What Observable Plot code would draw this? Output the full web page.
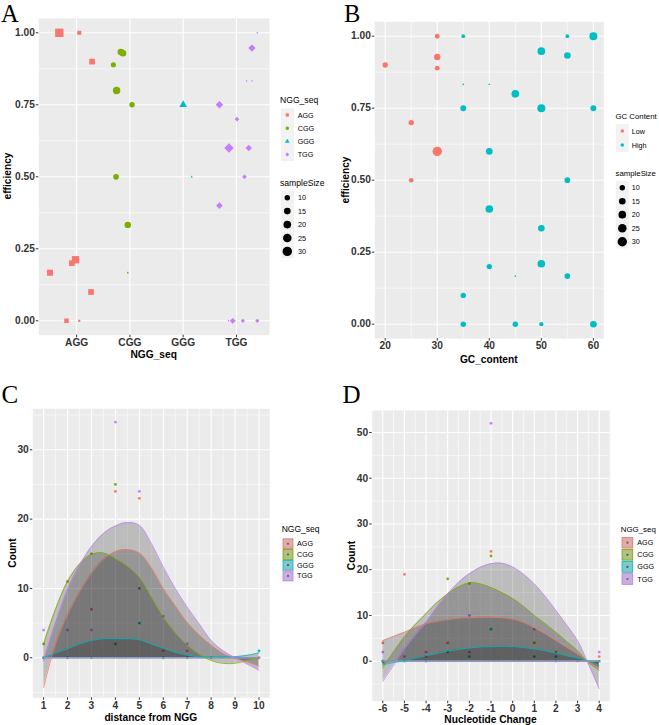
<!DOCTYPE html>
<html><head><meta charset="utf-8">
<script src="https://cdn.jsdelivr.net/npm/d3@7"></script>
<script src="https://cdn.jsdelivr.net/npm/@observablehq/plot@0.6"></script>
<style>
body{margin:0;background:#fff;}
#fig{position:relative;width:659px;height:725px;overflow:hidden;background:#fff;}
</style></head><body><div id="fig"></div>
<script>
// ---------- shared ----------
const ngg = ["AGG", "CGG", "GGG", "TGG"];
const nggColors = ["#F8766D", "#7CAE00", "#00BFC4", "#C77CFF"];
const nggShapes = ["square", "circle", "triangle", "diamond2"];
const gcLevels = ["Low", "High"];
const gcColors = ["#F8766D", "#00BFC4"];
const sizeBreaks = [10, 15, 20, 25, 30];

// ---------- Panel A: efficiency by NGG_seq (jittered) ----------
const aGroup  = ["AGG","AGG","AGG","AGG","AGG","AGG","AGG","AGG","AGG",
                 "CGG","CGG","CGG","CGG","CGG","CGG","CGG","CGG",
                 "GGG","GGG",
                 "TGG","TGG","TGG","TGG","TGG","TGG","TGG","TGG","TGG","TGG","TGG","TGG","TGG","TGG"];
const aJitter = [-0.325,0.05,0.29,-0.02,-0.09,-0.5,0.27,-0.19,0.05,
                 -0.17,-0.13,-0.31,-0.25,0.04,-0.26,-0.04,-0.04,
                 0.0,0.16,
                 0.39,0.29,0.19,0.29,-0.32,0.01,-0.14,0.23,0.15,-0.32,-0.15,-0.07,0.12,0.39];
const aEff    = [1.00,1.00,0.90,0.212,0.20,0.167,0.10,0.00,0.00,
                 0.933,0.929,0.889,0.80,0.75,0.50,0.333,0.167,
                 0.75,0.50,
                 1.00,0.947,0.833,0.833,0.75,0.70,0.60,0.60,0.50,0.40,0.00,0.00,0.00,0.00];
const aSize   = [30,7,14,23,14,16,14,9,2,
                 15,15,9,19,10,11,14,1,
                 11,1,
                 1,15,1,1,16,6,24,11,6,12,1,9,5,5];
const aYTicks = [0, 0.25, 0.5, 0.75, 1];
const aYMinor = [0.125, 0.375, 0.625, 0.875];

// ---------- Panel B: efficiency by GC_content ----------
const bGC    = [30,30,20,30,25,30,25,
                35,55,60,50,55,35,40,45,35,50,60,40,55,40,50,40,50,45,55,35,35,45,50,60];
const bEff   = [1.00,0.928,0.90,0.889,0.70,0.60,0.50,
                1.00,1.00,1.00,0.948,0.933,0.833,0.833,0.80,0.75,0.75,0.75,0.60,0.50,0.40,0.333,0.20,0.21,0.167,0.167,0.10,0.00,0.00,0.00,0.00];
const bSize  = [8,14,10,8,10,30,7,
                5,5,22,20,15,1,1,20,12,22,12,15,11,20,15,10,20,1,11,10,10,10,6,15];
const bLevel = ["Low","Low","Low","Low","Low","Low","Low",
                "High","High","High","High","High","High","High","High","High","High","High","High",
                "High","High","High","High","High","High","High","High","High","High","High","High"];
const bXTicks = [20, 30, 40, 50, 60];
const bXMinor = [25, 35, 45, 55];

// ---------- Panel C: Count by distance from NGG ----------
const cGroup = ["AGG","AGG","AGG","AGG","AGG","AGG","AGG","AGG","AGG",
                "CGG","CGG","CGG","CGG","CGG","CGG","CGG","CGG",
                "GGG","GGG","GGG","GGG","GGG","GGG","GGG","GGG",
                "TGG","TGG","TGG","TGG","TGG","TGG","TGG","TGG","TGG"];
const cDist  = [1,2,3,4,5,6,7,8,10,
                1,2,3,4,5,6,7,8,
                1,2,3,4,5,6,7,10,
                1,2,3,4,5,6,7,9,10];
const cCount = [0,0,7,24,23,1,1,0,0,
                2,11,15,25,10,0,0,0,
                0,0,0,2,5,0,0,1,
                4,4,4,34,24,6,2,0,0];
const cFitX   = [1,1.5,2,2.5,3,3.5,4,4.5,5,5.5,6,6.5,7,7.5,8,8.5,9,9.5,10];
const cFitAGG = [-4.3,2.0,6.2,9.5,12.2,14.2,15.3,15.6,15.1,13.0,10.0,7.5,5.1,3.3,1.8,0.6,-0.1,-0.6,-1.2];
const cFitCGG = [2.0,7.0,11.0,13.5,14.9,15.1,14.3,13.2,11.6,8.8,5.9,3.6,1.8,0.5,-0.4,-0.8,-0.8,-0.4,0.0];
const cFitGGG = [0.0,0.7,1.3,2.0,2.5,2.75,2.8,2.75,2.6,2.0,1.4,0.8,0.4,0.15,0.1,0.1,0.15,0.35,0.7];
const cFitTGG = [-0.5,5.0,9.8,13.3,16.0,17.9,19.0,19.5,19.1,16.5,13.1,10.0,7.3,4.9,2.5,1.0,0.0,-0.9,-1.8];
const cXTicks = [1,2,3,4,5,6,7,8,9,10];
const cXMinor = [1.5,2.5,3.5,4.5,5.5,6.5,7.5,8.5,9.5];
const cYTicks = [0,10,20,30];
const cYMinor = [-5,5,15,25,35];

// ---------- Panel D: Count by Nucleotide Change ----------
const dGroup  = ["AGG","AGG","AGG","AGG","AGG","AGG","AGG",
                 "CGG","CGG","CGG","CGG","CGG","CGG",
                 "GGG","GGG","GGG","GGG","GGG","GGG","GGG","GGG","GGG",
                 "TGG","TGG","TGG","TGG","TGG","TGG","TGG","TGG","TGG"];
const dChange = [-6,-5,-4,-3,-2,-1,4,
                 -6,-3,-2,-1,1,2,
                 -6,-5,-4,-3,-2,-1,1,2,4,
                 -6,-5,-4,-2,-1,1,2,3,4];
const dCount  = [4,19,2,4,2,24,1,
                 0,18,17,23,4,2,
                 0,0,0,2,1,7,1,1,0,
                 2,1,1,10,52,7,0,0,2];
const dFitX   = [-6,-5.5,-5,-4.5,-4,-3.5,-3,-2.5,-2,-1.5,-1,-0.5,0,0.5,1,1.5,2,2.5,3,3.5,4];
const dFitAGG = [4.5,5.4,6.3,7.3,8.2,8.7,9.1,9.4,9.5,9.6,9.6,9.5,9.2,8.5,7.3,6.0,4.5,3.0,1.6,-0.1,-1.5];
const dFitCGG = [-1.5,2.0,5.3,8.0,10.4,12.8,14.7,16.2,17.1,16.9,16.1,15.0,13.7,12.0,10.0,8.2,6.3,4.3,2.3,-0.3,-2.0];
const dFitGGG = [-0.8,-0.3,0.1,0.7,1.2,1.7,2.2,2.6,2.9,3.1,3.2,3.25,3.2,3.0,2.7,2.3,1.75,1.2,0.7,0.1,-1.0];
const dFitTGG = [-4.4,-0.9,2.7,5.7,8.5,11.8,14.7,17.2,19.1,20.5,21.3,21.4,20.6,19.0,16.9,14.2,11.1,7.9,4.5,-0.6,-6.0];
const dXTicks = [-6,-5,-4,-3,-2,-1,0,1,2,3,4];
const dXMinor = [-5.5,-4.5,-3.5,-2.5,-1.5,-0.5,0.5,1.5,2.5,3.5];
const dYTicks = [0,10,20,30,40,50];
const dYMinor = [-5,5,15,25,35,45];

// ---------- build ----------
const font = '"Liberation Sans", Arial, Helvetica, sans-serif';
const serif = '"Liberation Serif", "Times New Roman", Times, serif';
const fig = document.getElementById("fig");
const rScale = {type: "sqrt", domain: [0, 30], range: [0, 4.7]};
const rFun = d3.scaleSqrt().domain(rScale.domain).range(rScale.range);
const plotStyle = {fontFamily: font, fontSize: "10.2px", fontWeight: "bold", color: "#333", background: "transparent", overflow: "visible"};
const str = d => String(d);

function place(el, left, top) {
  el.style.position = "absolute"; el.style.left = left + "px"; el.style.top = top + "px";
  fig.appendChild(el);
}
function panel(xMajor, xMinor, yMajor, yMinor) {
  const m = [Plot.frame({fill: "#EBEBEB", stroke: "none"})];
  if (xMinor) m.push(Plot.gridX(xMinor, {stroke: "#fff", strokeOpacity: 1, strokeWidth: 0.55}));
  m.push(Plot.gridY(yMinor, {stroke: "#fff", strokeOpacity: 1, strokeWidth: 0.55}));
  m.push(Plot.gridX(xMajor, {stroke: "#fff", strokeOpacity: 1, strokeWidth: 1.1}));
  m.push(Plot.gridY(yMajor, {stroke: "#fff", strokeOpacity: 1, strokeWidth: 1.1}));
  return m;
}
function axes(xTicks, xFmt, yTicks, yFmt) {
  return [
    Plot.axisX(xTicks, {tickSize: 2.5, tickPadding: 1, tickFormat: xFmt, label: null}),
    Plot.axisY(yTicks, {tickSize: 2.5, tickPadding: 1.5, tickFormat: yFmt, label: null})
  ];
}

// Panel A
const aData = aGroup.map((g, i) => ({g, x: ngg.indexOf(g) + 1 + aJitter[i], y: aEff[i], s: aSize[i]}));
const plotA = Plot.plot({
  width: 330, height: 360,
  marginLeft: 38.3, marginRight: 61, marginTop: 17.9, marginBottom: 25.3,
  style: plotStyle,
  x: {domain: [0.29, 4.62]},
  y: {domain: [-0.05, 1.05]},
  r: rScale,
  color: {domain: ngg, range: nggColors},
  symbol: {domain: ngg, range: nggShapes},
  marks: [
    ...panel([1, 2, 3, 4], null, aYTicks, aYMinor),
    Plot.dot(aData, {x: "x", y: "y", r: "s", symbol: "g", fill: "g", stroke: "none"}),
    ...axes([1, 2, 3, 4], d => ngg[d - 1], aYTicks, d3.format(".2f"))
  ]
});
place(plotA, 0, 0);

// Panel B
const bData = bGC.map((x, i) => ({x, y: bEff[i], s: bSize[i], g: bLevel[i]}));
const plotB = Plot.plot({
  width: 329, height: 360,
  marginLeft: 44.3, marginRight: 55.7, marginTop: 21.3, marginBottom: 21.9,
  style: plotStyle,
  x: {domain: [18, 62]},
  y: {domain: [-0.05, 1.05]},
  r: rScale,
  color: {domain: gcLevels, range: gcColors},
  marks: [
    ...panel(bXTicks, bXMinor, aYTicks, aYMinor),
    Plot.dot(bData, {x: "x", y: "y", r: "s", fill: "g", stroke: "none"}),
    ...axes(bXTicks, str, aYTicks, d3.format(".2f"))
  ]
});
place(plotB, 330, 0);

// Panel C and D helpers
function fitTable(xs, fits) {
  return ngg.flatMap((g, k) => xs.map((x, i) => ({g, x, y: fits[k][i]})));
}
function countMarks(pts, fit) {
  return [
    Plot.dot(pts, {x: "x", y: "y", fill: "g", r: 1.4, stroke: "none"}),
    Plot.areaY(fit, {x: "x", y1: 0, y2: "y", z: "g", fill: "#000", fillOpacity: 0.2, curve: "catmull-rom"}),
    Plot.lineY(fit, {x: "x", y: 0, z: "g", stroke: "g", strokeWidth: 0.8}),
    Plot.lineY(fit, {x: "x", y: "y", z: "g", stroke: "g", strokeWidth: 0.8, curve: "catmull-rom"})
  ];
}

// Panel C
const cPts = cGroup.map((g, i) => ({g, x: cDist[i], y: cCount[i]}));
const cFit = fitTable(cFitX, [cFitAGG, cFitCGG, cFitGGG, cFitTGG]);
const plotC = Plot.plot({
  width: 330, height: 365,
  marginLeft: 32.3, marginRight: 60.7, marginTop: 48.3, marginBottom: 27.7,
  style: plotStyle,
  x: {domain: [0.55, 10.45]},
  y: {domain: [-5.77, 35.91]},
  color: {domain: ngg, range: nggColors},
  marks: [
    ...panel(cXTicks, cXMinor, cYTicks, cYMinor),
    ...countMarks(cPts, cFit),
    ...axes(cXTicks, str, cYTicks, str)
  ]
});
place(plotC, 0, 360);

// Panel D
const dPts = dGroup.map((g, i) => ({g, x: dChange[i], y: dCount[i]}));
const dFit = fitTable(dFitX, [dFitAGG, dFitCGG, dFitGGG, dFitTGG]);
const plotD = Plot.plot({
  width: 329, height: 365,
  marginLeft: 41.7, marginRight: 49.7, marginTop: 50, marginBottom: 24.3,
  style: plotStyle,
  x: {domain: [-6.49, 4.49]},
  y: {domain: [-8.75, 54.81]},
  color: {domain: ngg, range: nggColors},
  marks: [
    ...panel(dXTicks, dXMinor, dYTicks, dYMinor),
    ...countMarks(dPts, dFit),
    ...axes(dXTicks, str, dYTicks, str)
  ]
});
place(plotD, 330, 360);

// ---------- overlay: titles, panel letters, legends ----------
const ov = d3.create("svg").attr("width", 659).attr("height", 725)
  .style("position", "absolute").style("left", "0px").style("top", "0px").style("overflow", "visible");
fig.appendChild(ov.node());

function txt(x, y, s, o = {}) {
  const el = ov.append("text").attr("x", x).attr("y", y)
    .attr("font-family", o.family || font).attr("font-size", o.size || 8.5)
    .attr("font-weight", o.weight || "normal").attr("text-anchor", o.anchor || "start")
    .attr("dominant-baseline", o.baseline || "central").attr("fill", o.fill || "#000").text(s);
  if (o.rotate) el.attr("transform", `rotate(${o.rotate},${x},${y})`);
}
const ttl = {size: 10.2, weight: "bold", anchor: "middle"};

// panel letters
txt(1, 21.5, "A", {family: serif, size: 24.5, baseline: "alphabetic"});
txt(344, 21.5, "B", {family: serif, size: 24.5, baseline: "alphabetic"});
txt(1.5, 403, "C", {family: serif, size: 25, baseline: "alphabetic"});
txt(342.5, 402.7, "D", {family: serif, size: 25, baseline: "alphabetic"});

// axis titles
txt(153.7, 354, "NGG_seq", ttl);
txt(7.5, 176, "efficiency", {...ttl, rotate: -90});
txt(488.8, 359, "GC_content", ttl);
txt(345.5, 180, "efficiency", {...ttl, rotate: -90});
txt(12, 553, "Count", {...ttl, rotate: -90});
txt(150.8, 717, "distance from NGG", ttl);
txt(351, 555.5, "Count", {...ttl, rotate: -90});
txt(490.5, 719.5, "Nucleotide Change", ttl);

// legend A
txt(280, 100, "NGG_seq", {size: 8.6});
const symTypes = {square: d3.symbolSquare, circle: d3.symbolCircle, triangle: d3.symbolTriangle, diamond2: d3.symbolDiamond2};
const aKeyY = [115, 128.2, 141.4, 154.6];
ngg.forEach((g, k) => {
  ov.append("rect").attr("x", 281).attr("y", aKeyY[k] - 6.6).attr("width", 13).attr("height", 13.2).attr("fill", "#F2F2F2");
  ov.append("path").attr("d", d3.symbol(symTypes[nggShapes[k]], 10)()).attr("transform", `translate(287.3,${aKeyY[k]})`).attr("fill", nggColors[k]);
  txt(297.7, aKeyY[k], g, {size: 7.2});
});
txt(280, 183, "sampleSize", {size: 8.6});
const aSizeY = [197.7, 211.1, 224.6, 238, 251.4];
sizeBreaks.forEach((v, k) => {
  ov.append("rect").attr("x", 281).attr("y", aSizeY[k] - 6.7).attr("width", 13).attr("height", 13.4).attr("fill", "#F2F2F2");
  ov.append("circle").attr("cx", 287.3).attr("cy", aSizeY[k]).attr("r", rFun(v)).attr("fill", "#000");
  txt(298, aSizeY[k], String(v), {size: 7.2});
});

// legend B
txt(615.5, 116.7, "GC Content", {size: 7.8});
const bKeyY = [131, 145];
gcLevels.forEach((g, k) => {
  ov.append("rect").attr("x", 615.8).attr("y", bKeyY[k] - 7).attr("width", 13).attr("height", 14).attr("fill", "#F2F2F2");
  ov.append("circle").attr("cx", 622.3).attr("cy", bKeyY[k]).attr("r", 1.7).attr("fill", gcColors[k]);
  txt(631.7, bKeyY[k], g, {size: 7.2});
});
txt(615.5, 173.3, "sampleSize", {size: 7.8});
const bSizeY = [187.7, 201.2, 214.7, 228.2, 241.7];
sizeBreaks.forEach((v, k) => {
  ov.append("rect").attr("x", 615.8).attr("y", bSizeY[k] - 6.75).attr("width", 13).attr("height", 13.5).attr("fill", "#F2F2F2");
  ov.append("circle").attr("cx", 622.3).attr("cy", bSizeY[k]).attr("r", rFun(v)).attr("fill", "#000");
  txt(631.7, bSizeY[k], String(v), {size: 7.2});
});

// legends C & D
function areaLegend(x0, titleY, keyY, box, labelX, titleSize) {
  txt(x0 - 1, titleY, "NGG_seq", {size: titleSize});
  ngg.forEach((g, k) => {
    const y = keyY[k];
    ov.append("rect").attr("x", x0).attr("y", y - box / 2).attr("width", box).attr("height", box).attr("fill", "#C9C9C9");
    ov.append("rect").attr("x", x0 + 0.4).attr("y", y - box / 2 + 0.4).attr("width", box - 0.8).attr("height", box - 0.8)
      .attr("fill", nggColors[k]).attr("fill-opacity", 0.33).attr("stroke", nggColors[k]).attr("stroke-width", 0.8);
    ov.append("circle").attr("cx", x0 + box / 2).attr("cy", y).attr("r", 1.1).attr("fill", d3.color(nggColors[k]).darker(1.2));
    txt(labelX, y, g, {size: 7.2});
  });
}
areaLegend(282.7, 528.5, [543.8, 554.5, 565.2, 575.9], 10.6, 297, 8.5);
areaLegend(621.7, 529.3, [542.7, 554.8, 566.9, 579], 11.4, 637.3, 7.9);
</script>
</body></html>
